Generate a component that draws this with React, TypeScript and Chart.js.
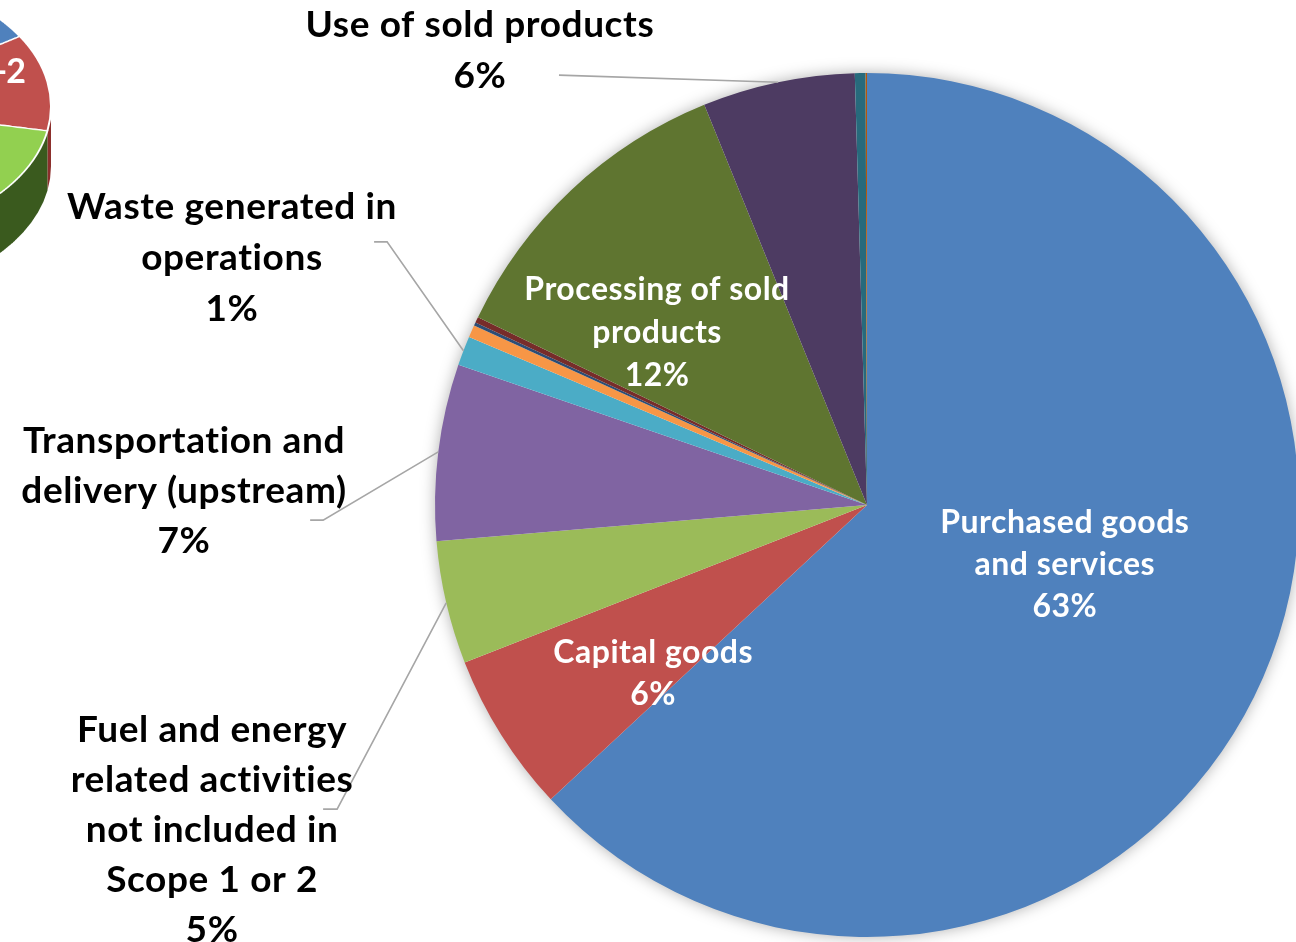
import React, { useEffect, useRef } from "react";
import { Chart, registerables } from "chart.js";

Chart.register(...registerables);

// ---------- main pie data ----------
const CATEGORIES = [
  "Purchased goods and services",
  "Capital goods",
  "Fuel and energy related activities not included in Scope 1 or 2",
  "Transportation and delivery (upstream)",
  "Waste generated in operations",
  "Business travel",
  "Employee commuting",
  "Upstream leased assets",
  "Processing of sold products",
  "Use of sold products",
  "End-of-life treatment of sold products",
  "Investments",
];
const VALUES = [63.1, 6.0, 4.6, 6.6, 1.1, 0.46, 0.12, 0.22, 11.7, 5.7, 0.4, 0.05];
const COLORS = [
  "#4F81BD",
  "#C0504D",
  "#9BBB59",
  "#8064A2",
  "#4BACC6",
  "#F79646",
  "#2C4D75",
  "#772C2A",
  "#5F7530",
  "#4D3B62",
  "#276A7C",
  "#B65708",
];
const LABEL_LINES: string[][] = [
  ["Purchased goods", "and services"],
  ["Capital goods"],
  ["Fuel and energy", "related activities", "not included in", "Scope 1 or 2"],
  ["Transportation and", "delivery (upstream)"],
  ["Waste generated in", "operations"],
  [],
  [],
  [],
  ["Processing of sold", "products"],
  ["Use of sold products"],
  [],
  [],
];

// ---------- inset (cut-off 3D pie) data ----------
const INSET_CATEGORIES = ["Scope 1", "Scope 1-2", "Scope 3"];
const INSET_VALUES = [16, 12, 72];
const INSET_COLORS = ["#4F81BD", "#C0504D", "#92D050"];
const INSET_WALL_COLORS = ["#2C4D75", "#8C2F2C", "#3A5A1E"];

// label layout (relative to pie centre, in units of radius)
type Layout = {
  index: number;
  x: number;
  y: number;
  lh: number;
  size: number;
  spacing: number;
  color: string;
  leader?: { x: number; y: number; elbow: number };
};
const LAYOUT: Layout[] = [
  { index: 0, x: 0.458, y: 0.065, lh: 42, size: 32, spacing: 0.5, color: "#ffffff" },
  { index: 1, x: -0.495, y: 0.366, lh: 42, size: 32, spacing: 0.5, color: "#ffffff" },
  { index: 8, x: -0.486, y: -0.475, lh: 43, size: 32, spacing: 0.5, color: "#ffffff" },
  { index: 9, x: -0.896, y: -1.083, lh: 51, size: 37, spacing: 0.6, color: "#000000", leader: { x: -0.713, y: -0.995, elbow: 0 } },
  { index: 4, x: -1.47, y: -0.662, lh: 51, size: 37, spacing: 0.6, color: "#000000", leader: { x: -1.141, y: -0.609, elbow: 13 } },
  { index: 3, x: -1.581, y: -0.12, lh: 50, size: 37, spacing: 0.6, color: "#000000", leader: { x: -1.289, y: 0.035, elbow: 13 } },
  { index: 2, x: -1.516, y: 0.549, lh: 50, size: 37, spacing: 0.6, color: "#000000", leader: { x: -1.259, y: 0.704, elbow: 14 } },
];

const FONT = 'Lato, "Open Sans", "DejaVu Sans", sans-serif';

const mainPlugin = {
  id: "mainDecor",
  beforeDatasetsDraw(chart: any) {
    const el = chart.getDatasetMeta(0).data[0];
    if (!el) return;
    const { x, y, outerRadius } = el.getProps(["x", "y", "outerRadius"], true);
    const ctx = chart.ctx;
    ctx.save();
    ctx.shadowColor = "rgba(0,0,0,0.35)";
    ctx.shadowBlur = 16;
    ctx.fillStyle = "#ffffff";
    ctx.beginPath();
    ctx.arc(x, y, outerRadius - 1, 0, Math.PI * 2);
    ctx.fill();
    ctx.restore();
  },
  afterDatasetsDraw(chart: any) {
    const ctx = chart.ctx;
    const meta = chart.getDatasetMeta(0);
    const total = VALUES.reduce((a, b) => a + b, 0);
    LAYOUT.forEach((l) => {
      const el = meta.data[l.index];
      const { x, y, startAngle, endAngle, outerRadius } = el.getProps(
        ["x", "y", "startAngle", "endAngle", "outerRadius"],
        true
      );
      const R = outerRadius;
      const mid = (startAngle + endAngle) / 2;
      if (l.leader) {
        const sx = x + l.leader.x * R;
        const sy = y + l.leader.y * R;
        ctx.save();
        ctx.strokeStyle = "#A6A6A6";
        ctx.lineWidth = 1.6;
        ctx.beginPath();
        ctx.moveTo(sx, sy);
        if (l.leader.elbow) ctx.lineTo(sx + l.leader.elbow, sy);
        ctx.lineTo(x + R * Math.cos(mid), y + R * Math.sin(mid));
        ctx.stroke();
        ctx.restore();
      }
      const pct = Math.round((VALUES[l.index] / total) * 100) + "%";
      const lines = [...LABEL_LINES[l.index], pct];
      ctx.save();
      ctx.font = `bold ${l.size}px ${FONT}`;
      (ctx as any).letterSpacing = `${l.spacing}px`;
      ctx.fillStyle = l.color;
      ctx.textAlign = "center";
      ctx.textBaseline = "alphabetic";
      const cx = x + l.x * R;
      const by = y + l.y * R;
      lines.forEach((t, i) => ctx.fillText(t, cx, by + i * l.lh));
      ctx.restore();
    });
  },
};

const insetPlugin = {
  id: "insetWall",
  beforeDatasetsDraw(chart: any) {
    const ctx = chart.ctx;
    const meta = chart.getDatasetMeta(0);
    const depth = 92;
    meta.data.forEach((el: any, i: number) => {
      const { x, y, startAngle, endAngle, outerRadius } = el.getProps(
        ["x", "y", "startAngle", "endAngle", "outerRadius"],
        true
      );
      const a0 = Math.max(startAngle, 0);
      const a1 = Math.min(endAngle, Math.PI);
      if (a1 <= a0) return;
      const R = outerRadius;
      ctx.save();
      ctx.fillStyle = INSET_WALL_COLORS[i];
      ctx.beginPath();
      ctx.arc(x, y, R, a0, a1);
      ctx.lineTo(x + R * Math.cos(a1), y + depth + R * Math.sin(a1));
      ctx.arc(x, y + depth, R, a1, a0, true);
      ctx.closePath();
      ctx.fill();
      ctx.restore();
    });
  },
};

export default function App() {
  const mainRef = useRef<HTMLCanvasElement>(null);
  const insetRef = useRef<HTMLCanvasElement>(null);

  useEffect(() => {
    const main = new Chart(mainRef.current as HTMLCanvasElement, {
      type: "pie",
      data: {
        labels: CATEGORIES,
        datasets: [
          {
            data: VALUES,
            backgroundColor: COLORS,
            borderWidth: 0,
            hoverOffset: 0,
            offset: 0,
          },
        ],
      },
      options: {
        responsive: false,
        maintainAspectRatio: false,
        animation: false,
        devicePixelRatio: 1,
        events: [],
        layout: { padding: { left: 435, top: 73, right: 1, bottom: 5 } },
        plugins: { legend: { display: false }, tooltip: { enabled: false } },
      },
      plugins: [mainPlugin],
    } as any);

    const inset = new Chart(insetRef.current as HTMLCanvasElement, {
      type: "pie",
      data: {
        labels: INSET_CATEGORIES,
        datasets: [
          {
            data: INSET_VALUES,
            backgroundColor: INSET_COLORS,
            borderColor: "#ffffff",
            borderWidth: 2,
            hoverOffset: 0,
            offset: 0,
          },
        ],
      },
      options: {
        responsive: false,
        maintainAspectRatio: false,
        animation: false,
        devicePixelRatio: 1,
        events: [],
        layout: { padding: { left: 0, top: 0, right: 0, bottom: 92 } },
        plugins: { legend: { display: false }, tooltip: { enabled: false } },
      },
      plugins: [insetPlugin],
    } as any);

    return () => {
      main.destroy();
      inset.destroy();
    };
  }, []);

  return (
    <div
      style={{
        position: "absolute",
        left: 0,
        top: 0,
        width: 1296,
        height: 942,
        overflow: "hidden",
        background: "#ffffff",
      }}
    >
      <div
        style={{
          position: "absolute",
          left: -352,
          top: -25,
          width: 404,
          height: 496,
          transform: "scaleY(0.65)",
          transformOrigin: "0 0",
        }}
      >
        <canvas ref={insetRef} width={404} height={496} style={{ display: "block" }} />
      </div>
      <div
        style={{
          position: "absolute",
          left: -375,
          top: 53,
          width: 400,
          textAlign: "right",
          font: `bold 34px ${FONT}`,
          lineHeight: "33px",
          letterSpacing: "-1px",
          color: "#ffffff",
          whiteSpace: "nowrap",
        }}
      >
        {INSET_CATEGORIES[1]}
      </div>
      <canvas
        ref={mainRef}
        width={1300}
        height={942}
        style={{ position: "absolute", left: 0, top: 0, display: "block" }}
      />
    </div>
  );
}
